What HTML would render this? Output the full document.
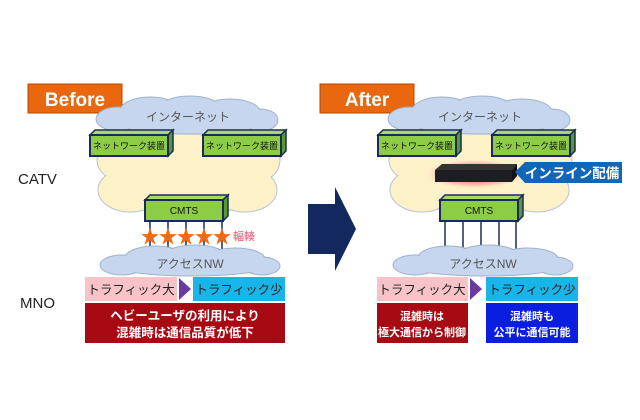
<!DOCTYPE html>
<html><head><meta charset="utf-8"><style>
body{margin:0;background:#fff;}
svg{display:block;font-family:"Liberation Sans","Noto Sans CJK JP",sans-serif;}
</style></head><body>
<svg width="640" height="420" viewBox="0 0 640 420" xmlns="http://www.w3.org/2000/svg">
<defs>
<g id="yc">
 <g fill="#fdf1c8" stroke="#b8c4d4" stroke-width="1">
  <ellipse cx="135" cy="160" rx="38" ry="25"/>
  <ellipse cx="190" cy="150" rx="50" ry="28"/>
  <ellipse cx="245" cy="160" rx="35" ry="26"/>
  <ellipse cx="130" cy="190" rx="32" ry="22"/>
  <ellipse cx="190" cy="195" rx="55" ry="22"/>
  <ellipse cx="245" cy="190" rx="32" ry="22"/>
 </g>
 <g fill="#fdf1c8">
  <ellipse cx="135" cy="160" rx="37" ry="24"/>
  <ellipse cx="190" cy="150" rx="49" ry="27"/>
  <ellipse cx="245" cy="160" rx="34" ry="25"/>
  <ellipse cx="130" cy="190" rx="31" ry="21"/>
  <ellipse cx="190" cy="195" rx="54" ry="21"/>
  <ellipse cx="245" cy="190" rx="31" ry="21"/>
  <rect x="120" y="150" width="140" height="50"/>
 </g>
</g>
<g id="bc">
 <g fill="#c6d6ee" stroke="#9fb2cc" stroke-width="1">
  <ellipse cx="118" cy="119" rx="22" ry="12"/>
  <ellipse cx="150" cy="111" rx="30" ry="14"/>
  <ellipse cx="190" cy="110" rx="32" ry="14"/>
  <ellipse cx="230" cy="112" rx="30" ry="13"/>
  <ellipse cx="260" cy="120" rx="18" ry="11"/>
  <ellipse cx="190" cy="124" rx="70" ry="10"/>
 </g>
 <g fill="#c6d6ee">
  <ellipse cx="118" cy="119" rx="21" ry="11"/>
  <ellipse cx="150" cy="111" rx="29" ry="13"/>
  <ellipse cx="190" cy="110" rx="31" ry="13"/>
  <ellipse cx="230" cy="112" rx="29" ry="12"/>
  <ellipse cx="260" cy="120" rx="17" ry="10"/>
  <ellipse cx="190" cy="124" rx="69" ry="9"/>
 </g>
</g>
<g id="ac">
 <g fill="#c6d6ee" stroke="#9fb2cc" stroke-width="1">
  <ellipse cx="122" cy="265" rx="22" ry="10"/>
  <ellipse cx="155" cy="258" rx="30" ry="12"/>
  <ellipse cx="195" cy="257" rx="32" ry="12"/>
  <ellipse cx="235" cy="259" rx="30" ry="11"/>
  <ellipse cx="262" cy="266" rx="18" ry="9"/>
  <ellipse cx="192" cy="268" rx="70" ry="8"/>
 </g>
 <g fill="#c6d6ee">
  <ellipse cx="122" cy="265" rx="21" ry="9"/>
  <ellipse cx="155" cy="258" rx="29" ry="11"/>
  <ellipse cx="195" cy="257" rx="31" ry="11"/>
  <ellipse cx="235" cy="259" rx="29" ry="10"/>
  <ellipse cx="262" cy="266" rx="17" ry="8"/>
  <ellipse cx="192" cy="268" rx="69" ry="7"/>
 </g>
</g>
<g id="nb">
 <polygon points="0,5 5,0 83,0 78,5" fill="#a9d86a" stroke="#1b2a5e" stroke-width="1.5"/>
 <polygon points="78,5 83,0 83,21 78,26" fill="#5a9a2a" stroke="#1b2a5e" stroke-width="1.5"/>
 <rect x="0" y="5" width="78" height="21" fill="#8ccc46" stroke="#1b2a5e" stroke-width="2"/>
</g>
<radialGradient id="glow"><stop offset="0.4" stop-color="#f47c6a"/><stop offset="0.75" stop-color="#f9b9a4" stop-opacity="0.8"/><stop offset="1" stop-color="#fde6d8" stop-opacity="0"/></radialGradient>
</defs>

<!-- Before -->
<rect x="28" y="84" width="94" height="29" fill="#e8670f" stroke="#b04a06"/>
<text x="75" y="106" font-size="19" font-weight="bold" fill="#fff" text-anchor="middle">Before</text>
<text x="18" y="184" font-size="15" fill="#222">CATV</text>
<text x="20" y="308" font-size="15" fill="#222">MNO</text>

<use href="#yc"/>
<use href="#bc"/>
<text x="188" y="121" font-size="12" fill="#555" text-anchor="middle">インターネット</text>
<use href="#nb" x="90" y="130"/>
<text x="129" y="149" font-size="9" fill="#111" text-anchor="middle">ネットワーク装置</text>
<use href="#nb" x="203" y="130"/>
<text x="242" y="149" font-size="9" fill="#111" text-anchor="middle">ネットワーク装置</text>
<use href="#nb" x="145" y="195"/>
<text x="184" y="214" font-size="10" fill="#111" text-anchor="middle">CMTS</text>
<g stroke="#1b2a5e" stroke-width="1.5">
<line x1="150" y1="221" x2="150" y2="252"/><line x1="168" y1="221" x2="168" y2="252"/><line x1="186" y1="221" x2="186" y2="252"/><line x1="204" y1="221" x2="204" y2="252"/><line x1="222" y1="221" x2="222" y2="252"/>
</g>
<use href="#ac"/>
<text x="190" y="268" font-size="12" fill="#555" text-anchor="middle">アクセスNW</text>
<g font-size="19" fill="#f26a10" text-anchor="middle">
<text x="150" y="243">★</text><text x="168" y="243">★</text><text x="186" y="243">★</text><text x="204" y="243">★</text><text x="222" y="243">★</text>
</g>
<text x="233" y="240" font-size="11" fill="#e0607a">輻輳</text>
<rect x="85" y="277" width="92" height="24" fill="#f8c3c8"/>
<text x="131" y="294" font-size="12.5" fill="#222" text-anchor="middle">トラフィック大</text>
<polygon points="179,278 191,289 179,300" fill="#6a3aa0"/>
<rect x="193" y="277" width="92" height="24" fill="#19b4e8"/>
<text x="239" y="294" font-size="12.5" fill="#222" text-anchor="middle">トラフィック少</text>
<rect x="85" y="303" width="200" height="40" fill="#a80a14"/>
<text x="185" y="320" font-size="12.5" font-weight="bold" fill="#fff" text-anchor="middle">ヘビーユーザの利用により</text>
<text x="185" y="337" font-size="12.5" font-weight="bold" fill="#fff" text-anchor="middle">混雑時は通信品質が低下</text>

<!-- Big arrow -->
<polygon points="308,204 335,204 335,187 356,229 335,271 335,254 308,254" fill="#13285e"/>

<!-- After -->
<rect x="320" y="84" width="94" height="29" fill="#e8670f" stroke="#b04a06"/>
<text x="367" y="106" font-size="19" font-weight="bold" fill="#fff" text-anchor="middle">After</text>
<g transform="translate(292,0)">
<use href="#yc"/>
<use href="#bc"/>
</g>
<text x="480" y="121" font-size="12" fill="#555" text-anchor="middle">インターネット</text>
<use href="#nb" x="378" y="130"/>
<text x="417" y="149" font-size="9" fill="#111" text-anchor="middle">ネットワーク装置</text>
<use href="#nb" x="492" y="130"/>
<text x="531" y="149" font-size="9" fill="#111" text-anchor="middle">ネットワーク装置</text>
<ellipse cx="475" cy="174" rx="50" ry="15" fill="url(#glow)"/>
<polygon points="435,170 442,164 517,164 512,170" fill="#333"/>
<rect x="435" y="170" width="77" height="12" fill="#1e1e22"/>
<polygon points="512,170 517,164 517,176 512,182" fill="#111"/>
<polygon points="515,172 525,162 622,162 622,183 525,183" fill="#1166b8"/>
<text x="572" y="178" font-size="13.5" font-weight="bold" fill="#fff" text-anchor="middle">インライン配備</text>
<use href="#nb" x="440" y="195"/>
<text x="479" y="214" font-size="10" fill="#111" text-anchor="middle">CMTS</text>
<g stroke="#1b2a5e" stroke-width="1.5">
<line x1="445" y1="221" x2="445" y2="252"/><line x1="463" y1="221" x2="463" y2="252"/><line x1="481" y1="221" x2="481" y2="252"/><line x1="499" y1="221" x2="499" y2="252"/><line x1="516" y1="221" x2="516" y2="252"/>
</g>
<g transform="translate(293,0)"><use href="#ac"/></g>
<text x="483" y="268" font-size="12" fill="#555" text-anchor="middle">アクセスNW</text>
<rect x="377" y="277" width="91" height="24" fill="#f8c3c8"/>
<text x="422" y="294" font-size="12.5" fill="#222" text-anchor="middle">トラフィック大</text>
<polygon points="470,278 482,289 470,300" fill="#6a3aa0"/>
<rect x="486" y="277" width="92" height="24" fill="#19b4e8"/>
<text x="532" y="294" font-size="12.5" fill="#222" text-anchor="middle">トラフィック少</text>
<rect x="377" y="303" width="91" height="40" fill="#a80a14"/>
<text x="422" y="320" font-size="11" font-weight="bold" fill="#fff" text-anchor="middle">混雑時は</text>
<text x="422" y="336" font-size="11" font-weight="bold" fill="#fff" text-anchor="middle">極大通信から制御</text>
<rect x="486" y="303" width="92" height="40" fill="#0a1ee0"/>
<text x="532" y="320" font-size="11" font-weight="bold" fill="#fff" text-anchor="middle">混雑時も</text>
<text x="532" y="336" font-size="11" font-weight="bold" fill="#fff" text-anchor="middle">公平に通信可能</text>
</svg>
</body></html>
